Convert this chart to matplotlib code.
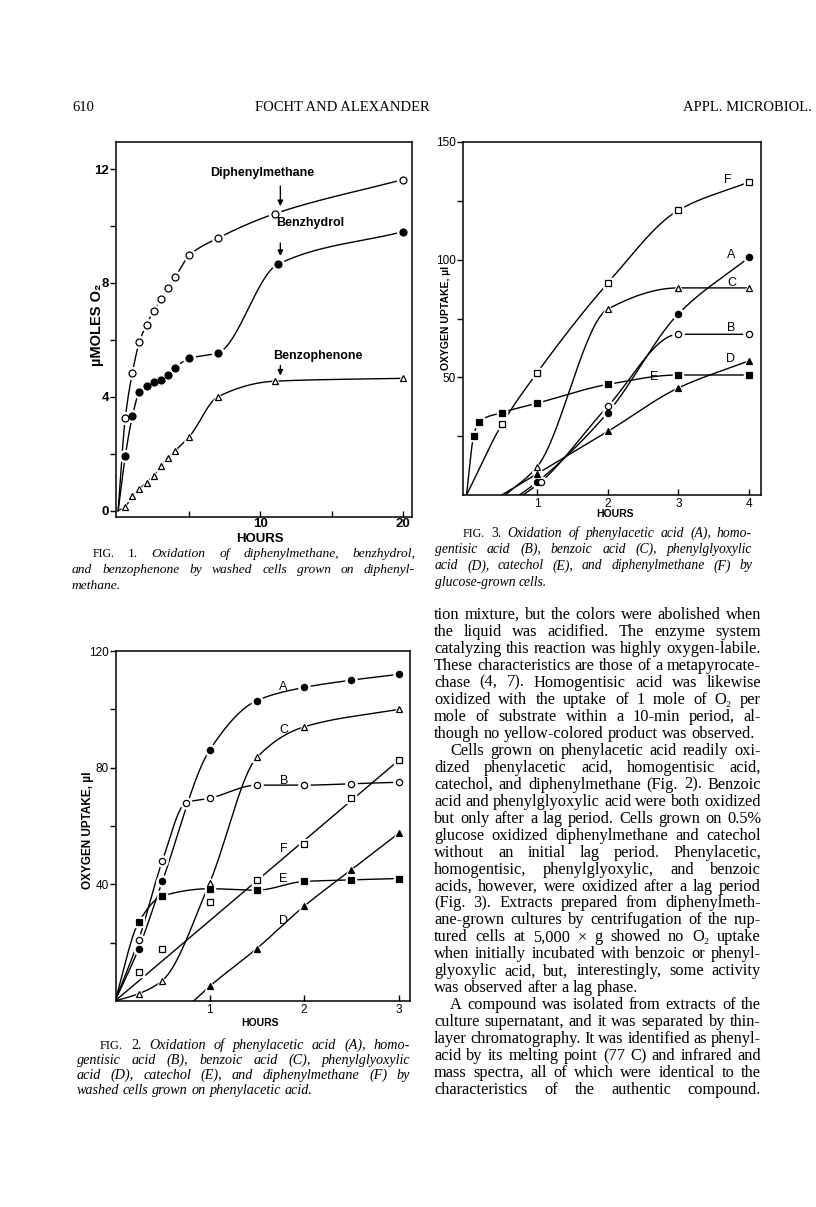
import numpy as np
import matplotlib
matplotlib.use('Agg')
import matplotlib.pyplot as plt

# ---- Fig. 1: umoles O2 vs hours (cells grown on diphenylmethane)
f1_hours = [0, 0.5, 1, 1.5, 2, 2.5, 3, 3.5, 4, 5, 7, 11, 20]
f1_diphenylmethane = [0, 3.25, 4.84, 5.94, 6.54, 7.02, 7.42, 7.83, 8.2, 8.97, 9.57, 10.43, 11.63]
f1_benzhydrol_hours = [0, 0.5, 1, 1.5, 2, 2.5, 3, 3.5, 4, 5, 7, 11.2, 20]
f1_benzhydrol = [0, 1.92, 3.31, 4.18, 4.39, 4.51, 4.59, 4.77, 5.02, 5.35, 5.54, 8.65, 9.8]
f1_benzophenone = [0, 0.14, 0.52, 0.76, 0.99, 1.23, 1.58, 1.84, 2.1, 2.6, 4.0, 4.55, 4.65]

# ---- Fig. 2: oxygen uptake (ul), cells grown on phenylacetic acid
f2_A_h = [0, 0.25, 0.5, 1, 1.5, 2, 2.5, 3]
f2_A = [0, 18, 41, 86, 103, 107.5, 110, 112]
f2_B_h = [0, 0.25, 0.5, 0.75, 1, 1.5, 2, 2.5, 3]
f2_B = [0, 21, 48, 68, 69.5, 74, 74, 74.5, 75]
f2_C_h = [0, 0.25, 0.5, 1, 1.5, 2, 3]
f2_C = [0, 2.5, 7, 40.5, 83.5, 94, 100]
f2_D_h = [0.83, 1, 1.5, 2, 2.5, 3]
f2_D = [0, 5, 18, 32.5, 45, 57.5]
f2_E_h = [0, 0.25, 0.5, 1, 1.5, 2, 2.5, 3]
f2_E = [0, 27, 36, 38.5, 38, 41, 41.5, 42]
f2_F_h = [0, 0.25, 0.5, 1, 1.5, 2, 2.5, 3]
f2_F = [0, 10, 18, 34, 41.5, 54, 69.5, 82.5]

# ---- Fig. 3: oxygen uptake (ul), glucose-grown cells
f3_A_h = [0.75, 1, 2, 3, 4]
f3_A = [0, 5.5, 35, 77, 101]
f3_B_h = [0.8, 1.05, 2, 3, 4]
f3_B = [0, 5.5, 37.7, 68.3, 68.3]
f3_C_h = [0.55, 1, 2, 3, 4]
f3_C = [0, 12, 79, 88, 88]
f3_D_h = [0.5, 1, 2, 3, 4]
f3_D = [0, 9, 27, 45.5, 57]
f3_E_h = [0, 0.1, 0.17, 0.5, 1, 2, 3, 4]
f3_E = [0, 25, 31, 35, 39, 47, 51, 51]
f3_F_h = [0, 0.5, 1, 2, 3, 4]
f3_F = [0, 30, 52, 90, 121, 133]

header = ['610', 'FOCHT AND ALEXANDER', 'APPL. MICROBIOL.']

cap1 = ['FIG. 1. Oxidation of diphenylmethane, benzhydrol,',
        'and benzophenone by washed cells grown on diphenyl-',
        'methane.']
cap2 = ['FIG. 2. Oxidation of phenylacetic acid (A), homo-',
        'gentisic acid (B), benzoic acid (C), phenylglyoxylic',
        'acid (D), catechol (E), and diphenylmethane (F) by',
        'washed cells grown on phenylacetic acid.']
cap3 = ['FIG. 3. Oxidation of phenylacetic acid (A), homo-',
        'gentisic acid (B), benzoic acid (C), phenylglyoxylic',
        'acid (D), catechol (E), and diphenylmethane (F) by',
        'glucose-grown cells.']

body = ['tion mixture, but the colors were abolished when',
        'the liquid was acidified. The enzyme system',
        'catalyzing this reaction was highly oxygen-labile.',
        'These characteristics are those of a metapyrocate-',
        'chase (4, 7). Homogentisic acid was likewise',
        'oxidized with the uptake of 1 mole of O₂ per',
        'mole of substrate within a 10-min period, al-',
        'though no yellow-colored product was observed.',
        'Cells grown on phenylacetic acid readily oxi-',
        'dized phenylacetic acid, homogentisic acid,',
        'catechol, and diphenylmethane (Fig. 2). Benzoic',
        'acid and phenylglyoxylic acid were both oxidized',
        'but only after a lag period. Cells grown on 0.5%',
        'glucose oxidized diphenylmethane and catechol',
        'without an initial lag period. Phenylacetic,',
        'homogentisic, phenylglyoxylic, and benzoic',
        'acids, however, were oxidized after a lag period',
        '(Fig. 3). Extracts prepared from diphenylmeth-',
        'ane-grown cultures by centrifugation of the rup-',
        'tured cells at 5,000 × g showed no O₂ uptake',
        'when initially incubated with benzoic or phenyl-',
        'glyoxylic acid, but, interestingly, some activity',
        'was observed after a lag phase.',
        'A compound was isolated from extracts of the',
        'culture supernatant, and it was separated by thin-',
        'layer chromatography. It was identified as phenyl-',
        'acid by its melting point (77 C) and infrared and',
        'mass spectra, all of which were identical to the',
        'characteristics of the authentic compound.']
body_indent = [8, 23]
body_ragged = [7, 22]

W, H = 816, 1207
SANS = ['Liberation Sans', 'DejaVu Sans']
SERIF = ['Liberation Serif', 'DejaVu Serif']

fig = plt.figure(figsize=(W / 100, H / 100), dpi=100)
fig.patch.set_facecolor('white')


def fx(px):
    return px / W


def fy(py):
    return 1 - py / H


def pchip(x, y, xs):
    # shape preserving curve through the read points (drawing only)
    x = np.asarray(x, float)
    y = np.asarray(y, float)
    h = np.diff(x)
    d = np.diff(y) / h
    m = np.zeros_like(y)
    m[0] = d[0]
    m[-1] = d[-1]
    for k in range(1, len(x) - 1):
        if d[k - 1] * d[k] > 0:
            w1 = 2 * h[k] + h[k - 1]
            w2 = h[k] + 2 * h[k - 1]
            m[k] = (w1 + w2) / (w1 / d[k - 1] + w2 / d[k])
    i = np.clip(np.searchsorted(x, xs) - 1, 0, len(h) - 1)
    t = (xs - x[i]) / h[i]
    return ((2 * t**3 - 3 * t**2 + 1) * y[i] + (t**3 - 2 * t**2 + t) * h[i] * m[i]
            + (-2 * t**3 + 3 * t**2) * y[i + 1] + (t**3 - t**2) * h[i] * m[i + 1])


def curve(ax, x, y, marker, filled, ms, skip_first=True, straight=False):
    x = np.asarray(x, float)
    y = np.asarray(y, float)
    if straight:
        ax.plot(x[[0, -1]], y[[0, -1]], color='black', lw=1.0, zorder=1)
    else:
        xs = np.linspace(x[0], x[-1], 300)
        ax.plot(xs, pchip(x, y, xs), color='black', lw=1.0, zorder=1)
    mx, my = (x[1:], y[1:]) if skip_first else (x, y)
    ax.plot(mx, my, ls='none', marker=marker, ms=ms + 3.5, mfc='white', mec='white', zorder=2)
    ax.plot(mx, my, ls='none', marker=marker, ms=ms, mfc='black' if filled else 'white',
            mec='black', mew=0.9, zorder=3)


def frame(box, xlim, ylim):
    left, top, right, bottom = box
    ax = fig.add_axes([fx(left), fy(bottom), (right - left) / W, (bottom - top) / H])
    ax.set_xlim(*xlim)
    ax.set_ylim(*ylim)
    for s in ax.spines.values():
        s.set_linewidth(1.1)
    ax.tick_params(axis='y', which='both', direction='out', length=4, width=1, pad=1)
    ax.tick_params(axis='x', which='both', direction='in', length=4, width=1, pad=2)
    return ax


def put_line(words, x0, x1, y, size, justify, styles=None, family=SERIF, sizes=None):
    r = fig.canvas.get_renderer()
    arts = []
    for k, w in enumerate(words):
        st = styles[k] if styles else 'normal'
        sz = sizes[k] if sizes else size
        arts.append(fig.text(0, fy(y), w, fontsize=sz, fontstyle=st, family=family,
                             va='baseline', ha='left'))
    widths = [a.get_window_extent(r).width for a in arts]
    gap = size * 100 / 72 * 0.25
    if justify and len(words) > 1:
        gap = (x1 - x0 - sum(widths)) / (len(words) - 1)
    x = x0
    for a, w in zip(arts, widths):
        a.set_x(fx(x))
        x += w + gap


def caption(lines, x_first, x0, x1, y0, dy, size):
    for n, line in enumerate(lines):
        words = line.split()
        styles = ['italic'] * len(words)
        sizes = [size] * len(words)
        start = x0
        if n == 0:
            styles[0] = styles[1] = 'normal'
            sizes[0] = size * 0.88
            start = x_first
        put_line(words, start, x1, y0 + n * dy, size, n < len(lines) - 1, styles, SERIF, sizes)


# ---------------- header
fig.text(fx(72), fy(111), header[0], fontsize=10.5, family=SERIF, ha='left')
fig.text(fx(342), fy(111), header[1], fontsize=10.5, family=SERIF, ha='center')
fig.text(fx(812), fy(111), header[2], fontsize=10.5, family=SERIF, ha='right')

# ---------------- Fig. 1
ax1 = frame((116, 142, 412, 517), (-0.15, 20.65), (-0.22, 12.95))
curve(ax1, f1_hours, f1_diphenylmethane, 'o', False, 5)
curve(ax1, f1_benzhydrol_hours, f1_benzhydrol, 'o', True, 5)
curve(ax1, f1_hours, f1_benzophenone, '^', False, 4.2)
ax1.set_xticks([10, 20])
ax1.set_xticks([5, 15], minor=True)
ax1.set_yticks([0, 4, 8, 12])
ax1.set_yticks([2, 6, 10], minor=True)
ax1.tick_params(labelsize=9.5)
ax1.tick_params(axis='x', pad=0.5)
for t in ax1.get_xticklabels() + ax1.get_yticklabels():
    t.set_family(SANS)
    t.set_fontweight('bold')
ax1.text(10.1, 11.85, 'Diphenylmethane', fontsize=9, fontweight='bold', family=SANS, ha='center', va='center')
ax1.text(13.5, 10.1, 'Benzhydrol', fontsize=9, fontweight='bold', family=SANS, ha='center', va='center')
ax1.text(14.0, 5.45, 'Benzophenone', fontsize=9, fontweight='bold', family=SANS, ha='center', va='center')
arrow = dict(arrowstyle='-|>', color='black', lw=1.0, mutation_scale=8)
ax1.annotate('', xy=(11.4, 10.6), xytext=(11.4, 11.5), arrowprops=arrow)
ax1.annotate('', xy=(11.4, 8.85), xytext=(11.4, 9.5), arrowprops=arrow)
ax1.annotate('', xy=(11.4, 4.65), xytext=(11.4, 5.2), arrowprops=arrow)
fig.text(fx(260), fy(539), 'HOURS', fontsize=9.5, fontweight='bold', family=SANS, ha='center', va='center')
fig.text(fx(97), fy(325), 'µMOLES O₂', fontsize=10.5, fontweight='bold', family=SANS,
         rotation=90, ha='center', va='center')
caption(cap1, 93, 72, 415, 557, 15.8, 9.7)

# ---------------- Fig. 3
ax3 = frame((463, 142, 761, 495), (-0.05, 4.17), (0, 150))
curve(ax3, f3_F_h, f3_F, 's', False, 4)
curve(ax3, f3_E_h, f3_E, 's', True, 4)
curve(ax3, f3_C_h, f3_C, '^', False, 4)
curve(ax3, f3_D_h, f3_D, '^', True, 4)
curve(ax3, f3_A_h, f3_A, 'o', True, 4.5)
curve(ax3, f3_B_h, f3_B, 'o', False, 4.5)
ax3.set_xticks([1, 2, 3, 4])
ax3.set_yticks([50, 100, 150])
ax3.set_yticks([25, 75, 125], minor=True)
ax3.tick_params(labelsize=8.5)
for t in ax3.get_xticklabels() + ax3.get_yticklabels():
    t.set_family(SANS)
for lab, lx, ly in [('F', 3.7, 134), ('A', 3.75, 102), ('C', 3.76, 90), ('B', 3.75, 71),
                    ('D', 3.74, 58), ('E', 2.65, 50)]:
    ax3.text(lx, ly, lab, fontsize=9, family=SANS, ha='center', va='center')
fig.text(fx(615), fy(514), 'HOURS', fontsize=7.5, fontweight='bold', family=SANS, ha='center', va='center')
fig.text(fx(446), fy(318), 'OXYGEN UPTAKE, µl', fontsize=7.5, fontweight='bold', family=SANS,
         rotation=90, ha='center', va='center')
caption(cap3, 463, 435, 752, 537, 16.2, 9.8)

# ---------------- Fig. 2
ax2 = frame((116, 651, 410, 1001), (0.01, 3.12), (0, 120))
curve(ax2, f2_F_h, f2_F, 's', False, 4, straight=True)
curve(ax2, f2_E_h, f2_E, 's', True, 4)
curve(ax2, f2_C_h, f2_C, '^', False, 4)
curve(ax2, f2_D_h, f2_D, '^', True, 4)
curve(ax2, f2_B_h, f2_B, 'o', False, 4.5)
curve(ax2, f2_A_h, f2_A, 'o', True, 4.5)
ax2.set_xticks([1, 2, 3])
ax2.set_yticks([40, 80, 120])
ax2.set_yticks([20, 60, 100], minor=True)
ax2.tick_params(labelsize=8.5)
for t in ax2.get_xticklabels() + ax2.get_yticklabels():
    t.set_family(SANS)
for lab, lx, ly in [('A', 1.78, 107.5), ('C', 1.79, 93), ('B', 1.79, 75.5), ('F', 1.78, 52),
                    ('E', 1.78, 42), ('D', 1.78, 27.5)]:
    ax2.text(lx, ly, lab, fontsize=9, family=SANS, ha='center', va='center')
fig.text(fx(260), fy(1023), 'HOURS', fontsize=7.5, fontweight='bold', family=SANS, ha='center', va='center')
fig.text(fx(88), fy(830), 'OXYGEN UPTAKE, µl', fontsize=8.5, fontweight='bold', family=SANS,
         rotation=90, ha='center', va='center')
caption(cap2, 100, 77, 410, 1049, 15.0, 10.2)

# ---------------- body text column
for n, line in enumerate(body):
    x0 = 450 if n in body_indent else 434
    put_line(line.split(), x0, 761, 619 + n * 16.97, 11.8, n not in body_ragged)

fig.savefig('out.png', dpi=100, facecolor='white')
